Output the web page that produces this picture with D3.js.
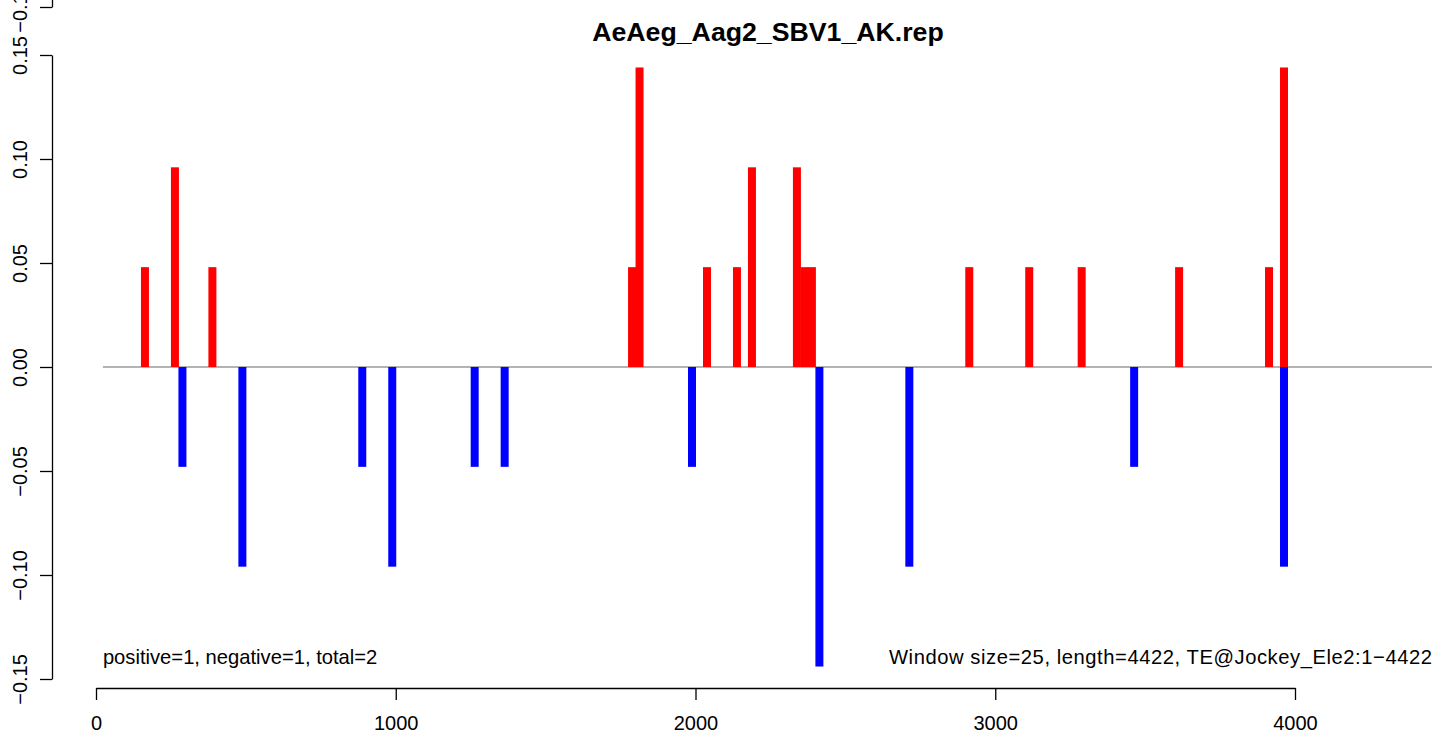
<!DOCTYPE html>
<html>
<head>
<meta charset="utf-8">
<script src="https://cdn.jsdelivr.net/npm/d3@7"></script>
<style>
  html, body { margin: 0; padding: 0; background: #ffffff; }
  svg { display: block; font-family: "Liberation Sans", Arial, Helvetica, sans-serif; }
</style>
</head>
<body>
<svg id="chart" width="1439" height="740"></svg>
<script>
// ---- data ----
const chartTitle = "AeAeg_Aag2_SBV1_AK.rep";
const windowSize = 25;
const seqLength = 4422;
const posStarts = [150, 250, 375, 1775, 1800, 2025, 2125, 2175, 2325, 2350, 2375, 2900, 3100, 3275, 3600, 3900, 3950];
const posValues = [0.048, 0.096, 0.048, 0.048, 0.144, 0.048, 0.048, 0.096, 0.096, 0.048, 0.048, 0.048, 0.048, 0.048, 0.048, 0.048, 0.144];
const negStarts = [275, 475, 875, 975, 1250, 1350, 1975, 2400, 2700, 3450, 3950];
const negValues = [-0.048, -0.096, -0.048, -0.096, -0.048, -0.048, -0.048, -0.144, -0.096, -0.048, -0.096];
const xTicks = [0, 1000, 2000, 3000, 4000];
const yTicks = [-0.15, -0.10, -0.05, 0.00, 0.05, 0.10, 0.15];
const zeroLineExtent = [23, 4457];
const leftNote = "positive=1, negative=1, total=2";
const rightNote = "Window size=25, length=4422, TE@Jockey_Ele2:1\u22124422";

// ---- layout ----
const svg = d3.select("#chart");
const axisX = 52;      // y-axis line position
const axisY = 688;     // x-axis line position
const FONT = "'Liberation Sans', Arial, Helvetica, sans-serif";

const x = d3.scaleLinear().domain([0, 4000]).range([96, 1295]);
const y = d3.scaleLinear().domain([-0.15, 0.15]).range([679, 55]);

const fmtY = d3.format(".2f");

// x axis
const gx = svg.append("g")
  .attr("transform", `translate(0,${axisY})`)
  .call(d3.axisBottom(x).tickValues(xTicks).tickSizeInner(12).tickSizeOuter(0).tickPadding(12).tickFormat(d3.format("d")));
gx.select(".domain").attr("stroke", "#000").attr("stroke-width", 1.3);
gx.selectAll(".tick line").attr("stroke", "#000").attr("stroke-width", 1.3);
gx.selectAll(".tick text").attr("font-size", 20).attr("fill", "#000")
  .attr("font-family", FONT)
  .attr("y", 42).attr("dy", 0);

// y axis
const gy = svg.append("g")
  .attr("transform", `translate(${axisX},0)`)
  .call(d3.axisLeft(y).tickValues(yTicks).tickSizeInner(12).tickSizeOuter(0).tickFormat(fmtY));
gy.select(".domain").attr("stroke", "#000").attr("stroke-width", 1.3);
gy.selectAll(".tick line").attr("stroke", "#000").attr("stroke-width", 1.3);
gy.selectAll(".tick text").attr("font-size", 20).attr("fill", "#000")
  .attr("font-family", FONT)
  .attr("transform", "rotate(-90)").attr("x", 0).attr("y", -25).attr("dy", 0)
  .attr("text-anchor", "middle");

// cut-off axis of the panel above (visible at the very top)
const yAbove = d3.scaleLinear().domain([-0.15, 0.15]).range([7, 7 - 624]);
const gyAbove = svg.append("g")
  .attr("transform", `translate(${axisX},0)`)
  .call(d3.axisLeft(yAbove).tickValues([-0.15]).tickSizeInner(12).tickSizeOuter(0).tickFormat(fmtY));
gyAbove.select(".domain").attr("stroke", "#000").attr("stroke-width", 1.3);
gyAbove.selectAll(".tick line").attr("stroke", "#000").attr("stroke-width", 1.3);
gyAbove.selectAll(".tick text").attr("font-size", 20).attr("fill", "#000")
  .attr("font-family", FONT)
  .attr("transform", "rotate(-90)").attr("x", 0).attr("y", -25).attr("dy", 0)
  .attr("text-anchor", "middle");

// zero line
svg.append("line")
  .attr("x1", x(zeroLineExtent[0])).attr("x2", x(zeroLineExtent[1]))
  .attr("y1", y(0)).attr("y2", y(0))
  .attr("stroke", "#9a9a9a").attr("stroke-width", 1.5);

// bars
const posData = posStarts.map((s, i) => ({ s, v: posValues[i] }));
const negData = negStarts.map((s, i) => ({ s, v: negValues[i] }));

svg.append("g").selectAll("rect").data(posData).join("rect")
  .attr("x", d => x(d.s))
  .attr("width", d => x(d.s + windowSize) - x(d.s) + 0.5)
  .attr("y", d => y(d.v))
  .attr("height", d => y(0) - y(d.v))
  .attr("fill", "#ff0000");

svg.append("g").selectAll("rect").data(negData).join("rect")
  .attr("x", d => x(d.s))
  .attr("width", d => x(d.s + windowSize) - x(d.s) + 0.5)
  .attr("y", y(0))
  .attr("height", d => y(d.v) - y(0))
  .attr("fill", "#0000ff");

// title
svg.append("text")
  .attr("x", 768).attr("y", 41)
  .attr("text-anchor", "middle")
  .attr("font-size", 26.7).attr("font-weight", "bold").attr("fill", "#000")
  .text(chartTitle);

// notes
svg.append("text")
  .attr("x", x(zeroLineExtent[0])).attr("y", 664)
  .attr("text-anchor", "start")
  .attr("font-size", 20.2).attr("fill", "#000")
  .text(leftNote);

const rightEnd = x(zeroLineExtent[1]);
const rightWidth = 543;
svg.append("text")
  .attr("x", rightEnd - rightWidth).attr("y", 664)
  .attr("text-anchor", "start")
  .attr("font-size", 20.2).attr("fill", "#000")
  .attr("textLength", rightWidth).attr("lengthAdjust", "spacing")
  .text(rightNote);
</script>
</body>
</html>
